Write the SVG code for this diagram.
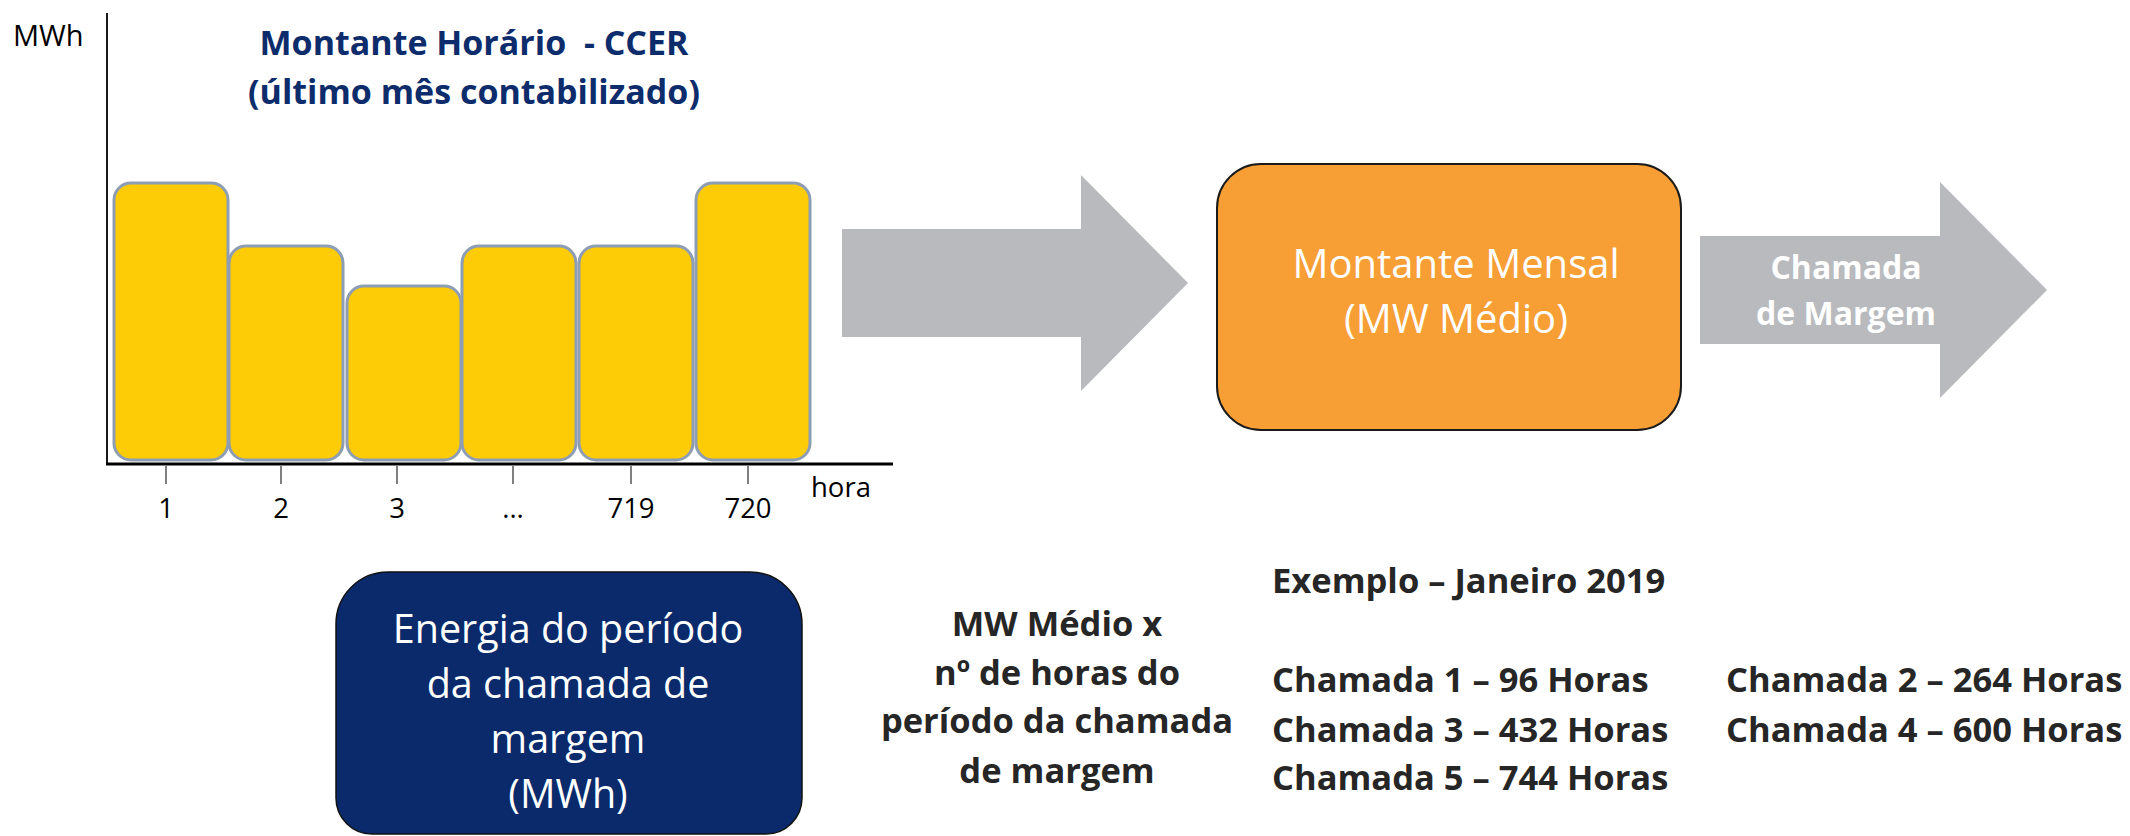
<svg xmlns="http://www.w3.org/2000/svg" width="2130" height="836" viewBox="0 0 2130 836">
<style>
text{font-family:"Open Sans","Noto Sans","Liberation Sans",sans-serif}
.bar{fill:#FECB07;stroke:#8D9DB3;stroke-width:3}
.ax{stroke:#000;fill:none}
.tick{stroke:#555;stroke-width:1.5}
.lbl{font-size:27.5px;fill:#000;text-anchor:middle}
.ttl{font-size:34px;font-weight:700;fill:#0D2C6C;text-anchor:middle;white-space:pre}
.wh{fill:#fff;text-anchor:middle}
.dk{fill:#262626;font-weight:700;font-size:34.5px}
.arr{fill:#B8BABE}
</style>
<rect width="2130" height="836" fill="#fff"/>
<g id="chart">
<text x="13" y="46" style="font-size:29px;fill:#000">MWh</text>
<text class="ttl" x="474" y="55">Montante Horário  - CCER</text>
<text class="ttl" x="474" y="104">(último mês contabilizado)</text>
<rect class="bar" x="114" y="183" width="114" height="277" rx="17"/>
<rect class="bar" x="229" y="246" width="114" height="214" rx="17"/>
<rect class="bar" x="347" y="286" width="114" height="174" rx="17"/>
<rect class="bar" x="462" y="246" width="114" height="214" rx="17"/>
<rect class="bar" x="579" y="246" width="114" height="214" rx="17"/>
<rect class="bar" x="696" y="183" width="114" height="277" rx="17"/>
<line class="ax" x1="107" y1="13" x2="107" y2="465" stroke-width="1.8"/>
<line class="ax" x1="106" y1="464" x2="893" y2="464" stroke-width="2.8"/>
<line class="tick" x1="166" y1="466" x2="166" y2="484"/>
<line class="tick" x1="281" y1="466" x2="281" y2="484"/>
<line class="tick" x1="397" y1="466" x2="397" y2="484"/>
<line class="tick" x1="513" y1="466" x2="513" y2="484"/>
<line class="tick" x1="631" y1="466" x2="631" y2="484"/>
<line class="tick" x1="748" y1="466" x2="748" y2="484"/>
<text class="lbl" x="166" y="518">1</text>
<text class="lbl" x="281" y="518">2</text>
<text class="lbl" x="397" y="518">3</text>
<text class="lbl" x="513" y="518">...</text>
<text class="lbl" x="631" y="518">719</text>
<text class="lbl" x="748" y="518">720</text>
<text x="811" y="497" style="font-size:27.5px;fill:#000">hora</text>
</g>
<g id="connectors">
<polygon class="arr" points="842,229 1081,229 1081,175 1188,283 1081,391 1081,337 842,337"/>
<polygon class="arr" points="1700,236 1940,236 1940,182 2047,290 1940,398 1940,344 1700,344"/>
<text class="wh" x="1846" y="279" style="font-size:32px;font-weight:700">Chamada</text>
<text class="wh" x="1846" y="325" style="font-size:32px;font-weight:700">de Margem</text>
</g>
<g id="montante-mensal">
<rect x="1217" y="164" width="464" height="266" rx="44" fill="#F79E34" stroke="#1a1a1a" stroke-width="2"/>
<text class="wh" x="1456" y="278" style="font-size:40px">Montante Mensal</text>
<text class="wh" x="1456" y="333" style="font-size:40px">(MW Médio)</text>
</g>
<g id="energia">
<path d="M388,572 H750 A52,52 0 0 1 802,624 V798 A36,36 0 0 1 766,834 H372 A36,36 0 0 1 336,798 V624 A52,52 0 0 1 388,572 Z" fill="#0A2A6B" stroke="#111" stroke-width="1.5"/>
<text class="wh" x="568" y="643" style="font-size:39.5px">Energia do período</text>
<text class="wh" x="568" y="698" style="font-size:39.5px">da chamada de</text>
<text class="wh" x="568" y="753" style="font-size:39.5px">margem</text>
<text class="wh" x="568" y="808" style="font-size:39.5px">(MWh)</text>
</g>
<g id="formula">
<text class="dk" x="1057" y="636" text-anchor="middle">MW Médio x</text>
<text class="dk" x="1057" y="685" text-anchor="middle">nº de horas do</text>
<text class="dk" x="1057" y="733" text-anchor="middle">período da chamada</text>
<text class="dk" x="1057" y="783" text-anchor="middle">de margem</text>
</g>
<g id="exemplo">
<text class="dk" x="1272" y="593">Exemplo – Janeiro 2019</text>
<text class="dk" x="1272" y="692">Chamada 1 – 96 Horas</text>
<text class="dk" x="1272" y="742">Chamada 3 – 432 Horas</text>
<text class="dk" x="1272" y="790">Chamada 5 – 744 Horas</text>
<text class="dk" x="1726" y="692">Chamada 2 – 264 Horas</text>
<text class="dk" x="1726" y="742">Chamada 4 – 600 Horas</text>
</g>
</svg>
